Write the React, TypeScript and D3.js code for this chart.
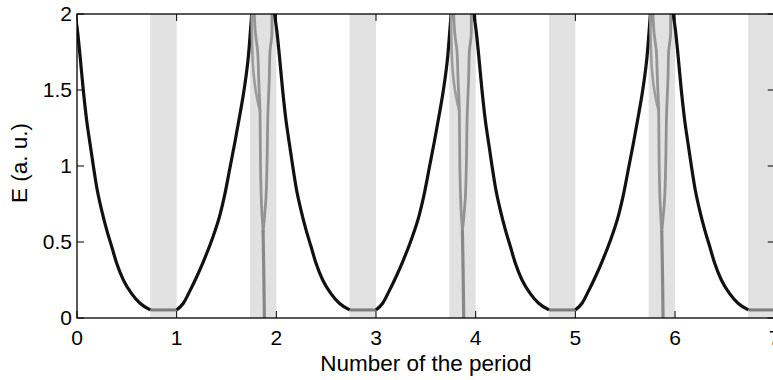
import React from 'react';
import * as d3 from 'd3';

// ---- data ----
const xTicks = [0, 1, 2, 3, 4, 5, 6, 7];
const xTickLabels = ['0', '1', '2', '3', '4', '5', '6', '7'];
const yTicks = [0, 0.5, 1, 1.5, 2];
const yTickLabels = ['0', '0.5', '1', '1.5', '2'];

const bandStarts = [0.735, 1.735, 2.735, 3.735, 4.735, 5.735, 6.735];
const bandEnds = [1, 2, 3, 4, 5, 6, 7];

// periods with decay + floor, and periods with rise + spike
const floorPeriods = [0, 2, 4, 6];
const spikePeriods = [1, 3, 5];
const floorE = 0.053;

// decaying branch (offset from period start)
const decayDx = [-0.02, 0.003, 0.03, 0.063, 0.097, 0.13, 0.164, 0.197, 0.247, 0.298, 0.348, 0.398, 0.465, 0.548, 0.632, 0.735];
const decayE = [2.0, 1.9, 1.73, 1.5, 1.3, 1.15, 1.0, 0.864, 0.71, 0.58, 0.47, 0.36, 0.25, 0.16, 0.097, 0.053];

// rising branch (offset from period start)
const riseDx = [0, 0.067, 0.134, 0.2, 0.267, 0.351, 0.435, 0.485, 0.535, 0.585, 0.635, 0.676, 0.719, 0.753];
const riseE = [0.053, 0.097, 0.18, 0.27, 0.37, 0.51, 0.68, 0.82, 0.99, 1.16, 1.34, 1.5, 1.72, 2.0];

// grey spikes inside the band (offset from period start)
const spikeLeftDx = [0.779, 0.789, 0.813, 0.823, 0.836, 0.841, 0.853, 0.867];
const spikeLeftE = [2.0, 1.88, 1.75, 1.57, 1.36, 1.0, 0.72, 0.57];
const spikeLeft2Dx = [0.753, 0.757, 0.77, 0.792, 0.815, 0.836];
const spikeLeft2E = [2.0, 1.8, 1.62, 1.5, 1.42, 1.36];
const spikeRightDx = [0.956, 0.956, 0.936, 0.929, 0.916, 0.906, 0.896, 0.867];
const spikeRightE = [2.0, 1.88, 1.75, 1.57, 1.36, 1.0, 0.79, 0.57];
const spikeTrunkDx = [0.867, 0.874, 0.88];
const spikeTrunkE = [0.57, 0.3, 0.0];

// ---- layout ----
const W = 773;
const H = 380;
const x0 = 77;
const x1 = 774.7;
const yTop = 14;
const yBot = 318;

export default function App() {
  const x = d3.scaleLinear().domain([0, 7]).range([x0, x1]);
  const y = d3.scaleLinear().domain([0, 2]).range([yBot, yTop]);
  const line = d3
    .line<[number, number]>()
    .x((d) => x(d[0]))
    .y((d) => y(d[1]))
    .curve(d3.curveMonotoneX);
  const lineY = d3
    .line<[number, number]>()
    .x((d) => x(d[0]))
    .y((d) => y(d[1]))
    .curve(d3.curveMonotoneY);

  const pts = (n: number, dx: number[], e: number[]) =>
    dx.map((d, i) => [n + d, e[i]] as [number, number]);

  const font = "'Liberation Sans', Arial, Helvetica, sans-serif";
  const fs = 21;
  const lfs = 22.5;
  const tick = 7;

  return (
    <svg
      width={W}
      height={H}
      style={{ position: 'absolute', left: 0, top: 0, background: '#fff' }}
    >
      <defs>
        <clipPath id="plot">
          <rect x={x0} y={yTop} width={x1 - x0} height={yBot - yTop} />
        </clipPath>
      </defs>
      <rect x={0} y={0} width={W} height={H} fill="#fff" />
      <g clipPath="url(#plot)">
        {bandStarts.map((s, i) => (
          <rect
            key={'b' + i}
            x={x(s)}
            y={yTop}
            width={x(bandEnds[i]) - x(s)}
            height={yBot - yTop}
            fill="#e1e1e1"
          />
        ))}
        {floorPeriods.map((n) => (
          <line
            key={'f' + n}
            x1={x(n + decayDx[decayDx.length - 1])}
            x2={x(n + 1)}
            y1={y(floorE)}
            y2={y(floorE)}
            stroke="#7c7c7c"
            strokeWidth={3}
          />
        ))}
        {floorPeriods.map((n) => (
          <path
            key={'d' + n}
            d={line(pts(n, decayDx, decayE)) || ''}
            fill="none"
            stroke="#111"
            strokeWidth={3.2}
          />
        ))}
        {spikePeriods.map((n) => (
          <path
            key={'r' + n}
            d={line(pts(n, riseDx, riseE)) || ''}
            fill="none"
            stroke="#111"
            strokeWidth={3.2}
          />
        ))}
        {spikePeriods.map((n) => (
          <g key={'s' + n} fill="none" strokeLinejoin="round" strokeLinecap="round">
            <path d={lineY(pts(n, spikeLeft2Dx, spikeLeft2E)) || ''} stroke="#9c9c9c" strokeWidth={2.6} />
            <path d={lineY(pts(n, spikeLeftDx, spikeLeftE)) || ''} stroke="#949494" strokeWidth={2.8} />
            <path d={lineY(pts(n, spikeRightDx, spikeRightE)) || ''} stroke="#929292" strokeWidth={2.8} />
            <path d={lineY(pts(n, spikeTrunkDx, spikeTrunkE)) || ''} stroke="#888" strokeWidth={3.2} />
          </g>
        ))}
      </g>

      {/* frame */}
      <rect x={x0} y={yTop} width={x1 - x0} height={yBot - yTop} fill="none" stroke="#000" strokeWidth={1.3} />

      {/* x ticks */}
      {xTicks.map((t, i) => (
        <g key={'xt' + i}>
          <line x1={x(t)} x2={x(t)} y1={yBot} y2={yBot - tick} stroke="#000" strokeWidth={1} />
          <line x1={x(t)} x2={x(t)} y1={yTop} y2={yTop + tick} stroke="#000" strokeWidth={1} />
          <text x={x(t)} y={345} textAnchor="middle" fontFamily={font} fontSize={fs} fill="#000">
            {xTickLabels[i]}
          </text>
        </g>
      ))}
      {/* y ticks */}
      {yTicks.map((t, i) => (
        <g key={'yt' + i}>
          <line x1={x0} x2={x0 + tick} y1={y(t)} y2={y(t)} stroke="#000" strokeWidth={1} />
          <line x1={x1} x2={x1 - tick} y1={y(t)} y2={y(t)} stroke="#000" strokeWidth={1} />
          <text x={72} y={y(t)} dy="0.35em" textAnchor="end" fontFamily={font} fontSize={fs} fill="#000">
            {yTickLabels[i]}
          </text>
        </g>
      ))}

      <text x={(x0 + x1) / 2} y={371} textAnchor="middle" fontFamily={font} fontSize={lfs} fill="#000">
        Number of the period
      </text>
      <text
        transform={`translate(27,163) rotate(-90)`}
        textAnchor="middle"
        fontFamily={font}
        fontSize={lfs}
        fill="#000"
      >
        E (a. u.)
      </text>
    </svg>
  );
}
